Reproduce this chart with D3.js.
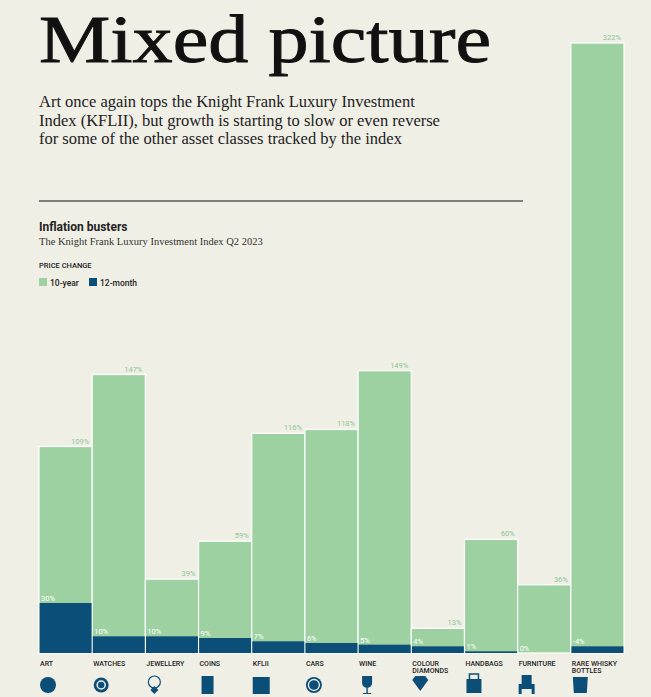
<!DOCTYPE html>
<html><head><meta charset="utf-8">
<script src="https://cdn.jsdelivr.net/npm/d3@7"></script>
<style>body{margin:0;background:#f0efe6;}svg{display:block;}</style>
</head><body><svg id="c" width="651" height="697"></svg>
<script>
var categories = ['ART','WATCHES','JEWELLERY','COINS','KFLII','CARS','WINE','COLOUR|DIAMONDS','HANDBAGS','FURNITURE','RARE WHISKY|BOTTLES'];
var tenYear = [109,147,39,59,116,118,149,13,60,36,322];
var twelveMonth = [30,10,10,9,7,6,5,4,1,0,-4];
var legendLabels = ['10-year','12-month'];

var svg = d3.select('#c');
var green = '#9dd1a2', navy = '#0b4f78', base = 653;

svg.append('text').attr('x',39).attr('y',62).attr('font-family','Liberation Serif').attr('font-size',68)
  .attr('fill','#111').attr('stroke','#111').attr('stroke-width',0.9)
  .attr('textLength',452).attr('lengthAdjust','spacingAndGlyphs').text('Mixed picture');
['Art once again tops the Knight Frank Luxury Investment','Index (KFLII), but growth is starting to slow or even reverse','for some of the other asset classes tracked by the index']
  .forEach(function(t,i){ svg.append('text').attr('x',39).attr('y',107+i*18.5).attr('font-family','Liberation Serif')
    .attr('font-size',16.5).attr('fill','#222').text(t); });
svg.append('line').attr('x1',39).attr('x2',523).attr('y1',201).attr('y2',201).attr('stroke','#111').attr('stroke-width',1);
svg.append('text').attr('x',39).attr('y',231).attr('font-family','Roboto').attr('font-weight',700)
  .attr('font-size',12).attr('fill','#222').text('Inflation busters');
svg.append('text').attr('x',39).attr('y',245).attr('font-family','Liberation Serif')
  .attr('font-size',10.5).attr('fill','#333').text('The Knight Frank Luxury Investment Index Q2 2023');
svg.append('text').attr('x',39).attr('y',268).attr('font-family','Roboto').attr('font-weight',500)
  .attr('font-size',7.5).attr('fill','#222').text('PRICE CHANGE');
var lg = svg.append('g').attr('transform','translate(39,278)');
[green,navy].forEach(function(c,i){
  var x = i*50;
  lg.append('rect').attr('x',x).attr('y',0).attr('width',8).attr('height',8).attr('fill',c);
  lg.append('text').attr('x',x+11).attr('y',8).attr('font-family','Roboto').attr('font-weight',500)
    .attr('font-size',8.5).attr('fill','#222').text(legendLabels[i]);
});

var x = d3.scaleBand().domain(categories).range([39,624]).padding(0);
var y = d3.scaleLinear().domain([0,322]).range([base,43]);
var y2 = d3.scaleLinear().domain([0,30]).range([base,603]);

var g = svg.append('g');
g.selectAll('.b1').data(categories).enter().append('rect')
  .attr('x',function(d){return x(d);}).attr('width',x.bandwidth())
  .attr('y',function(d,i){return y(tenYear[i]);}).attr('height',function(d,i){return base-y(tenYear[i]);})
  .attr('fill',green).attr('stroke','#fff').attr('stroke-width',1.2);
g.selectAll('.b2').data(categories).enter().append('rect')
  .attr('x',function(d){return x(d)+0.6;}).attr('width',x.bandwidth()-1.2)
  .attr('y',function(d,i){return y2(Math.abs(twelveMonth[i]));}).attr('height',function(d,i){return base-y2(Math.abs(twelveMonth[i]));})
  .attr('fill',navy);
g.selectAll('.l1').data(categories).enter().append('text')
  .attr('x',function(d){return x(d)+x.bandwidth()-3;}).attr('y',function(d,i){return y(tenYear[i])-3;})
  .attr('text-anchor','end').attr('font-family','Roboto').attr('font-size',7.5).attr('fill','#8cc594')
  .text(function(d,i){return tenYear[i]+'%';});
g.selectAll('.l2').data(categories).enter().append('text')
  .attr('x',function(d){return x(d)+2;}).attr('y',function(d,i){return y2(Math.abs(twelveMonth[i]))-2;})
  .attr('font-family','Roboto').attr('font-size',7.5).attr('fill','#fff')
  .text(function(d,i){return twelveMonth[i]+'%';});

categories.forEach(function(c){
  var t = svg.append('text').attr('x',x(c)+1).attr('y',666).attr('font-family','Roboto').attr('font-weight',500)
    .attr('font-size',7).attr('fill','#222');
  c.split('|').forEach(function(p,j){ t.append('tspan').attr('x',x(c)+1).attr('dy',j?6.5:0).text(p); });
});
// icons
var ic = svg.append('g').attr('fill',navy);
function cx(i){return x(categories[i])+9;}
ic.append('circle').attr('cx',cx(0)).attr('cy',685).attr('r',8);
ic.append('circle').attr('cx',cx(1)).attr('cy',685).attr('r',7.5);
ic.append('circle').attr('cx',cx(1)).attr('cy',685).attr('r',4).attr('fill','none').attr('stroke','#f0efe6').attr('stroke-width',1.5);
ic.append('circle').attr('cx',cx(2)).attr('cy',682).attr('r',6).attr('fill','none').attr('stroke',navy).attr('stroke-width',1.2);
ic.append('path').attr('d','M'+cx(2)+',686l4,4l-4,4l-4,-4z');
ic.append('rect').attr('x',cx(3)-6).attr('y',676).attr('width',12).attr('height',18);
ic.append('rect').attr('x',cx(4)-8).attr('y',677).attr('width',17).attr('height',17);
ic.append('circle').attr('cx',cx(5)).attr('cy',685).attr('r',8);
ic.append('circle').attr('cx',cx(5)).attr('cy',685).attr('r',5.5).attr('fill','none').attr('stroke','#f0efe6').attr('stroke-width',1.3);
ic.append('path').attr('d','M'+(cx(6)-5)+',676h10v7a5,5 0 0 1 -10,0z M'+(cx(6)-0.7)+',687h1.4v6h-1.4z M'+(cx(6)-4)+',693h8v1h-8z');
ic.append('path').attr('d','M'+(cx(7)-8)+',680l3,-4h10l3,4l-8,11z');
ic.append('rect').attr('x',cx(8)-7).attr('y',679).attr('width',15).attr('height',14);
ic.append('rect').attr('x',cx(8)-4).attr('y',674).attr('width',9).attr('height',6).attr('fill','none').attr('stroke',navy).attr('stroke-width',1.5);
ic.append('path').attr('d','M'+(cx(9)-5)+',675h10v9h3v10h-3v-5h-10v5h-3v-10h3z');
ic.append('path').attr('d','M'+(cx(10)-7)+',677h15l-1,16h-13z');
</script></body></html>
